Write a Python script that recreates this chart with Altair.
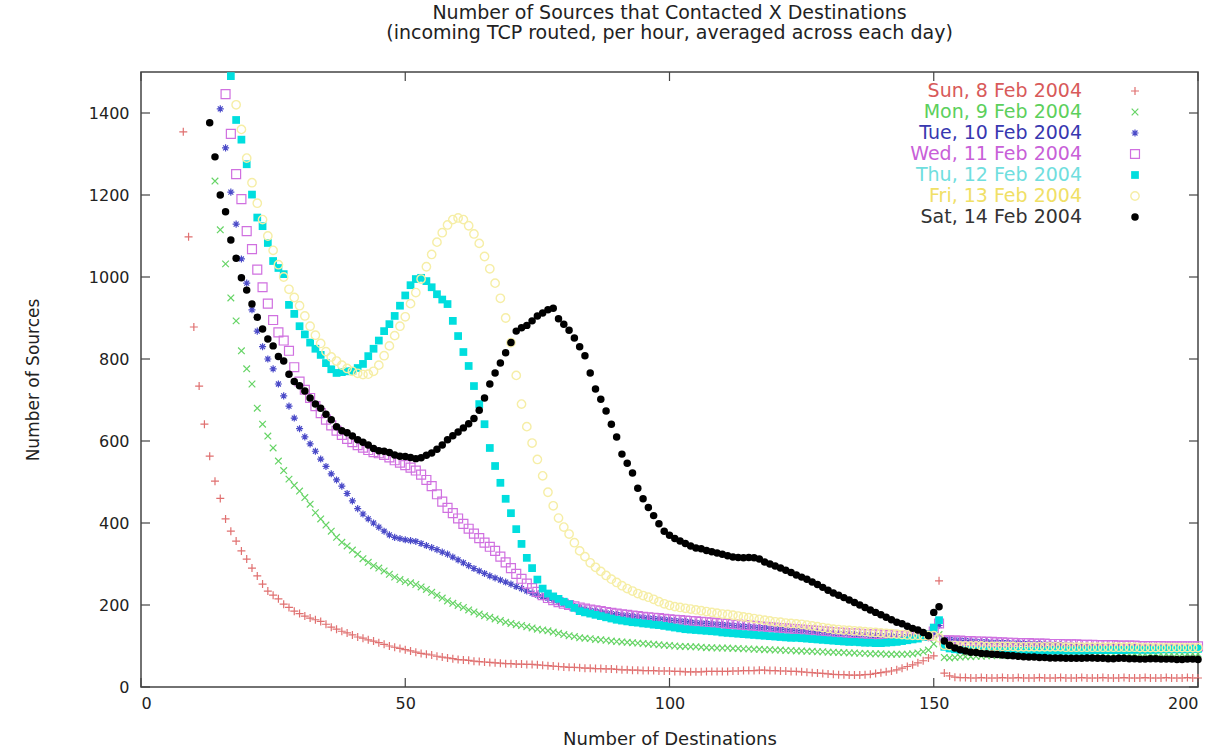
import altair as alt
import pandas as pd

# ---------------- data ----------------
DAYS = ["Sun, 8 Feb 2004", "Mon, 9 Feb 2004", "Tue, 10 Feb 2004", "Wed, 11 Feb 2004",
        "Thu, 12 Feb 2004", "Fri, 13 Feb 2004", "Sat, 14 Feb 2004"]

SUN_START = 8
SUN = [1354, 1098, 878, 734, 641, 563, 502, 460, 410, 380,
       356, 332, 312, 290, 271, 251, 234, 224, 215, 202,
       194, 185, 179, 173, 168, 164, 160, 153, 146, 141,
       136, 132, 127, 122, 119, 115, 112, 108, 104, 100,
       97, 94, 91, 88, 85, 82, 80, 78, 75, 73,
       71, 69, 67, 66, 65, 63, 62, 61, 60, 59,
       58, 57, 57, 56, 56, 55, 55, 54, 53, 52,
       51, 50, 49, 48, 48, 47, 46, 46, 45, 45,
       44, 44, 43, 42, 42, 41, 41, 40, 40, 40,
       39, 39, 39, 38, 38, 37, 37, 37, 37, 38,
       38, 38, 38, 38, 39, 39, 40, 40, 40, 41,
       41, 40, 40, 39, 39, 38, 38, 37, 36, 35,
       34, 33, 32, 31, 30, 30, 29, 29, 29, 30,
       31, 33, 35, 37, 39, 42, 46, 50, 54, 59,
       64, 71, 76, 259, 34, 27, 24, 23, 23, 22,
       22, 23, 22, 22, 22, 23, 22, 22, 23, 22,
       22, 22, 23, 22, 22, 22, 23, 22, 22, 22,
       23, 22, 22, 22, 23, 22, 22, 22, 23, 22,
       22, 22, 23, 22, 22, 22, 23, 22, 22, 22,
       23, 22, 22]

MON_START = 14
MON = [1234, 1115, 1032, 949, 893, 820, 776, 739, 680, 641,
       612, 583, 551, 528, 507, 492, 478, 462, 446, 425,
       410, 395, 380, 365, 353, 344, 334, 324, 313, 304,
       296, 290, 283, 275, 268, 262, 257, 254, 250, 244,
       238, 231, 224, 217, 210, 204, 199, 194, 188, 183,
       178, 174, 170, 166, 162, 158, 155, 152, 150, 147,
       144, 141, 139, 137, 134, 131, 128, 125, 123, 120,
       119, 118, 116, 115, 114, 112, 111, 110, 109, 108,
       107, 106, 105, 104, 103, 102, 101, 100, 99, 99,
       98, 98, 97, 96, 96, 95, 95, 95, 94, 94,
       93, 93, 92, 92, 91, 91, 90, 90, 89, 89,
       88, 88, 87, 87, 86, 86, 85, 85, 84, 84,
       83, 83, 82, 82, 81, 81, 81, 80, 80, 80,
       80, 80, 81, 83, 86, 90, 105, 128, 72, 71,
       72, 73, 74, 74, 75, 75, 76, 76, 77, 77,
       77, 78, 78, 78, 78, 79, 79, 79, 79, 79,
       80, 80, 80, 80, 80, 80, 80, 80, 80, 80,
       80, 80, 81, 81, 81, 81, 81, 81, 81, 81,
       81, 81, 81, 81, 81, 81, 81]

TUE_START = 15
TUE = [1410, 1315, 1207, 1129, 1044, 985, 920, 868, 830, 800,
       776, 739, 710, 685, 656, 630, 610, 593, 575, 556,
       538, 520, 505, 490, 472, 454, 435, 422, 410, 400,
       390, 380, 371, 365, 362, 359, 357, 355, 350, 345,
       340, 335, 329, 324, 317, 310, 303, 296, 289, 283,
       277, 271, 266, 261, 256, 251, 245, 240, 234, 229,
       224, 220, 216, 211, 207, 203, 199, 196, 193, 190,
       187, 185, 183, 181, 179, 177, 176, 174, 173, 171,
       170, 168, 167, 166, 165, 163, 162, 161, 160, 158,
       157, 156, 155, 154, 153, 152, 151, 150, 149, 148,
       147, 146, 145, 144, 143, 142, 141, 140, 139, 138,
       137, 136, 135, 134, 133, 132, 131, 130, 130, 129,
       128, 127, 127, 126, 125, 125, 124, 124, 123, 123,
       122, 122, 121, 121, 120, 132, 150, 117, 116, 115,
       114, 113, 112, 111, 110, 110, 109, 109, 108, 108,
       107, 107, 106, 106, 105, 105, 104, 104, 103, 103,
       102, 102, 101, 101, 100, 100, 100, 99, 99, 99,
       98, 98, 98, 97, 97, 97, 96, 96, 96, 96,
       95, 95, 95, 95, 95, 95]

WED_START = 16
WED = [1446, 1349, 1251, 1190, 1112, 1068, 1018, 975, 935, 895,
       865, 845, 820, 780, 745, 725, 705, 685, 668, 652,
       638, 625, 615, 605, 597, 590, 584, 578, 573, 570,
       566, 560, 553, 547, 541, 535, 528, 518, 505, 490,
       470, 452, 437, 424, 411, 398, 386, 374, 363, 352,
       342, 332, 318, 304, 290, 276, 264, 252, 241, 232,
       224, 217, 212, 207, 203, 200, 197, 194, 191, 189,
       187, 185, 183, 181, 179, 177, 176, 174, 173, 171,
       170, 169, 168, 166, 165, 164, 163, 162, 161, 160,
       159, 158, 157, 156, 155, 154, 153, 152, 151, 150,
       149, 148, 147, 146, 145, 144, 143, 142, 141, 140,
       139, 138, 137, 136, 135, 134, 133, 132, 131, 131,
       130, 129, 129, 128, 128, 127, 127, 126, 126, 126,
       125, 125, 125, 125, 135, 155, 114, 114, 113, 113,
       112, 112, 111, 111, 110, 110, 109, 109, 108, 108,
       107, 107, 107, 106, 106, 106, 105, 105, 105, 104,
       104, 104, 103, 103, 103, 102, 102, 102, 102, 101,
       101, 101, 101, 100, 100, 100, 100, 100, 99, 99,
       99, 99, 99, 99, 99]

THU_START = 17
THU = [1490, 1383, 1335, 1275, 1201, 1145, 1124, 1083, 1039, 1022,
       1007, 932, 910, 880, 860, 840, 825, 810, 790, 775,
       766, 768, 770, 771, 778, 788, 807, 825, 845, 868,
       885, 905, 930, 955, 980, 995, 998, 990, 975, 958,
       945, 934, 893, 856, 817, 783, 734, 690, 641, 583,
       539, 498, 459, 424, 385, 349, 315, 290, 262, 240,
       228, 221, 215, 208, 202, 193, 185, 182, 179, 176,
       173, 170, 167, 164, 162, 160, 158, 157, 155, 154,
       152, 151, 149, 147, 145, 143, 141, 140, 139, 138,
       137, 136, 135, 133, 132, 131, 130, 129, 128, 127,
       126, 125, 124, 123, 122, 121, 120, 120, 119, 118,
       117, 116, 115, 114, 113, 112, 111, 110, 110, 109,
       108, 108, 107, 107, 108, 109, 110, 112, 114, 116,
       118, 122, 128, 145, 163, 98, 94, 92, 91, 90,
       90, 89, 89, 89, 88, 88, 88, 88, 88, 88,
       88, 88, 88, 88, 88, 89, 89, 89, 89, 89,
       89, 89, 89, 90, 90, 90, 90, 90, 90, 90,
       91, 91, 91, 91, 91, 91, 92, 92, 92, 92,
       92, 92, 93, 93]

FRI_START = 18
FRI = [1420, 1360, 1290, 1230, 1180, 1140, 1100, 1065, 1030, 1000,
       970, 950, 930, 905, 880, 858, 838, 818, 805, 795,
       785, 777, 770, 765, 762, 763, 770, 785, 808, 832,
       857, 880, 903, 935, 962, 995, 1025, 1055, 1085, 1108,
       1127, 1140, 1144, 1140, 1125, 1105, 1082, 1050, 1020, 985,
       948, 900, 840, 760, 690, 635, 595, 555, 515, 475,
       442, 412, 390, 373, 352, 332, 318, 303, 292, 282,
       272, 263, 255, 247, 240, 234, 228, 223, 219, 214,
       208, 203, 199, 196, 194, 192, 190, 188, 186, 184,
       182, 180, 178, 177, 175, 173, 171, 169, 167, 165,
       163, 161, 159, 158, 156, 155, 154, 153, 151, 149,
       147, 145, 143, 141, 140, 139, 138, 137, 136, 135,
       134, 133, 132, 131, 130, 129, 128, 127, 126, 126,
       125, 125, 125, 120, 102, 101, 101, 100, 100, 100,
       100, 100, 99, 99, 99, 99, 99, 99, 98, 98,
       98, 98, 98, 98, 98, 98, 98, 97, 97, 97,
       97, 97, 97, 97, 97, 97, 97, 97, 97, 97,
       97, 96, 96, 96, 96, 96, 96, 96, 96, 96,
       96, 96, 96]

SAT_START = 13
SAT = [1376, 1293, 1200, 1159, 1090, 1046, 998, 968, 934, 902,
       873, 849, 832, 806, 795, 763, 745, 735, 722, 705,
       690, 680, 665, 652, 635, 625, 620, 612, 603, 597,
       590, 582, 576, 575, 572, 566, 563, 562, 560, 557,
       559, 565, 571, 580, 590, 603, 613, 622, 632, 642,
       655, 675, 705, 739, 766, 790, 815, 840, 868, 876,
       882, 893, 905, 912, 920, 924, 898, 885, 870, 851,
       830, 808, 766, 727, 702, 673, 641, 610, 568, 546,
       522, 485, 459, 438, 418, 398, 380, 370, 362, 356,
       350, 344, 339, 337, 333, 330, 327, 324, 320, 317,
       316, 315, 316, 315, 312, 305, 300, 295, 290, 285,
       279, 273, 268, 263, 256, 250, 243, 236, 229, 224,
       218, 212, 206, 200, 194, 188, 182, 176, 170, 164,
       158, 154, 148, 143, 139, 133, 125, 182, 196, 112,
       102, 95, 91, 88, 85, 84, 82, 81, 80, 79,
       78, 77, 76, 75, 74, 73, 73, 72, 72, 71,
       71, 71, 70, 70, 70, 70, 71, 71, 70, 70,
       69, 69, 70, 70, 69, 69, 68, 68, 69, 69,
       68, 68, 68, 67, 67, 68, 68, 67]

STARTS = [SUN_START, MON_START, TUE_START, WED_START, THU_START, FRI_START, SAT_START]
SERIES = [SUN, MON, TUE, WED, THU, FRI, SAT]

X_TICKS = [0, 50, 100, 150, 200]
Y_TICKS = [0, 200, 400, 600, 800, 1000, 1200, 1400]

TITLE = ["Number of Sources that Contacted X Destinations",
         "(incoming TCP routed, per hour, averaged across each day)"]
X_TITLE = "Number of Destinations"
Y_TITLE = "Number of Sources"

# ---------------- styles ----------------
PLUS = "M-1,0L1,0M0,-1L0,1"
CROSS = "M-1,-1L1,1M-1,1L1,-1"
STAR = "M-1,0L1,0M0,-1L0,1M-0.7,-0.7L0.7,0.7M-0.7,0.7L0.7,-0.7"

MARK_COLORS = ["#e07070", "#66d466", "#4a4ac8", "#d070e0", "#00dede", "#f6eea6", "#000000"]
TEXT_COLORS = ["#d85a5a", "#5cd05c", "#3838b0", "#c860d8", "#70dede", "#f0e066", "#333333"]
STYLES = [
    dict(shape=PLUS, filled=False, size=64, strokeWidth=1.2),
    dict(shape=CROSS, filled=False, size=44, strokeWidth=1.2),
    dict(shape=STAR, filled=False, size=50, strokeWidth=1.2),
    dict(shape="square", filled=False, size=80, strokeWidth=1.2),
    dict(shape="square", filled=True, size=60, strokeWidth=0),
    dict(shape="circle", filled=False, size=70, strokeWidth=1.4),
    dict(shape="circle", filled=True, size=56, strokeWidth=0),
]

FONT = "DejaVu Sans"
W, H = 1057, 615

rows = []
for name, start, vals in zip(DAYS, STARTS, SERIES):
    for i, v in enumerate(vals):
        rows.append({"day": name, "dest": start + i, "sources": v})
df = pd.DataFrame(rows)

xs = alt.Scale(domain=[0, 200], nice=False, zero=False)
ys = alt.Scale(domain=[0, 1500], nice=False, zero=False)

ax_x = alt.Axis(values=X_TICKS, ticks=False, domain=False, grid=False, format="d",
                labelFont=FONT, labelFontSize=16, labelColor="#222222", labelPadding=8,
                title=X_TITLE, titleFont=FONT, titleFontSize=18, titleFontWeight="normal",
                titleColor="#222222", titlePadding=19)
ax_y = alt.Axis(values=Y_TICKS, ticks=False, domain=False, grid=False, format="d",
                labelFont=FONT, labelFontSize=16, labelColor="#222222", labelPadding=12,
                title=Y_TITLE, titleFont=FONT, titleFontSize=17, titleFontWeight="normal",
                titleColor="#222222", titlePadding=46)

X = alt.X("dest:Q", scale=xs, axis=ax_x)
Y = alt.Y("sources:Q", scale=ys, axis=ax_y)

layers = []
for name, col, st in zip(DAYS, MARK_COLORS, STYLES):
    kw = dict(shape=st["shape"], filled=st["filled"], size=st["size"], opacity=1)
    if st["filled"]:
        kw.update(fill=col, stroke=col, strokeWidth=0)
    else:
        kw.update(stroke=col, strokeWidth=st["strokeWidth"])
    layers.append(
        alt.Chart(df).transform_filter(alt.datum.day == name)
        .mark_point(**kw).encode(x=X, y=Y)
    )

# inward tick marks on all four sides (gnuplot style)
xt = pd.DataFrame({"dest": X_TICKS})
yt = pd.DataFrame({"sources": Y_TICKS})
TK = 9
tick_kw = dict(color="#444444", strokeWidth=1.2)
layers.append(alt.Chart(xt).mark_rule(**tick_kw).encode(x=X, y=alt.value(H), y2=alt.value(H - TK)))
layers.append(alt.Chart(xt).mark_rule(**tick_kw).encode(x=X, y=alt.value(0), y2=alt.value(TK)))
layers.append(alt.Chart(yt).mark_rule(**tick_kw).encode(y=Y, x=alt.value(0), x2=alt.value(TK)))
layers.append(alt.Chart(yt).mark_rule(**tick_kw).encode(y=Y, x=alt.value(W), x2=alt.value(W - TK)))

# legend (text right-aligned, symbol to the right), gnuplot style
LEG_TEXT_X = 941
LEG_SYM_X = 994
LEG_Y0 = 19
LEG_DY = 21
for i, (name, tcol, mcol, st) in enumerate(zip(DAYS, TEXT_COLORS, MARK_COLORS, STYLES)):
    yy = LEG_Y0 + LEG_DY * i
    layers.append(
        alt.Chart(pd.DataFrame({"label": [name]}))
        .mark_text(align="right", baseline="middle", font=FONT, fontSize=19, color=tcol)
        .encode(text="label:N", x=alt.value(LEG_TEXT_X), y=alt.value(yy))
    )
    kw = dict(shape=st["shape"], filled=st["filled"], size=st["size"], opacity=1)
    if st["filled"]:
        kw.update(fill=mcol, stroke=mcol, strokeWidth=0)
    else:
        kw.update(stroke=mcol, strokeWidth=st["strokeWidth"])
    layers.append(
        alt.Chart(pd.DataFrame({"label": [name]}))
        .mark_point(**kw)
        .encode(x=alt.value(LEG_SYM_X), y=alt.value(yy))
    )

chart = alt.layer(*layers).properties(
    width=W, height=H,
    autosize="none",
    padding={"left": 141, "top": 72, "right": 26, "bottom": 64},
    title=alt.TitleParams(text=TITLE, font=FONT, fontSize=19, fontWeight="normal",
                          color="#222222", lineHeight=20, offset=28, anchor="middle"),
    background="white",
).configure_view(stroke="#444444", strokeWidth=1.5)

chart.save("out.html", embed_options={"renderer": "svg", "actions": False})
